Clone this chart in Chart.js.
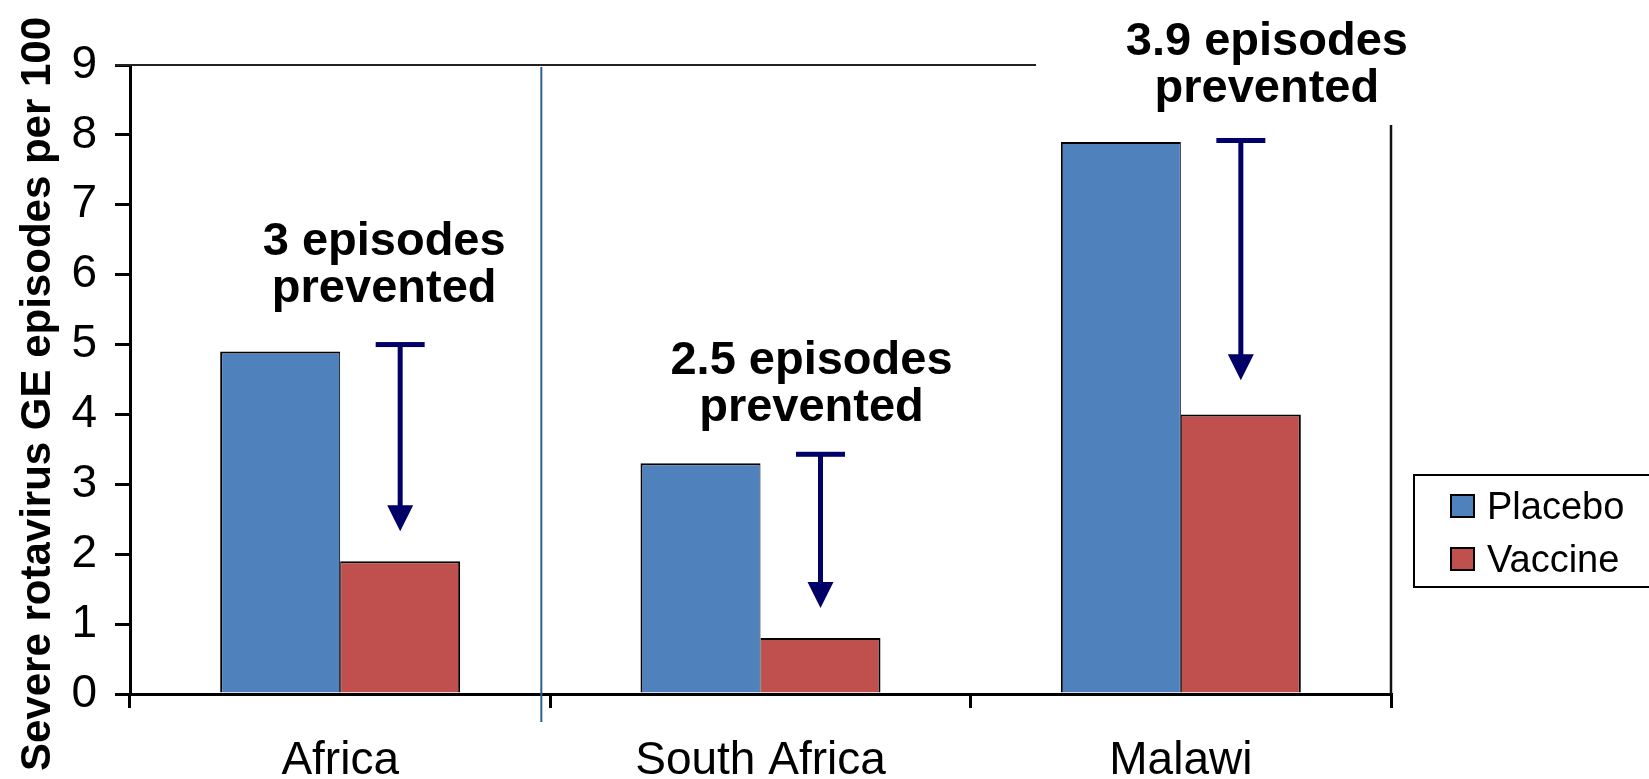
<!DOCTYPE html>
<html>
<head>
<meta charset="utf-8">
<script src="https://cdn.jsdelivr.net/npm/chart.js@4.4.1/dist/chart.umd.min.js"></script>
<style>
  html, body { margin: 0; padding: 0; background: #ffffff; }
  canvas { display: block; }
</style>
</head>
<body>
<canvas id="chart" width="1649" height="779"></canvas>
<script>
// Severe rotavirus gastroenteritis episodes per 100, by site and study arm
const categories = ['Africa', 'South Africa', 'Malawi'];
const placebo = [4.9, 3.3, 7.9];
const vaccine = [1.9, 0.8, 4.0];

// Arrow annotations: start (cap) and end (tip) values on the y scale
const arrowFrom = [5.0, 3.43, 7.92];
const arrowTo = [2.33, 1.23, 4.49];

// y-axis tick values
const yTickValues = [0, 1, 2, 3, 4, 5, 6, 7, 8, 9];

const FONT = "'Liberation Sans', Arial, Helvetica, sans-serif";
const BLUE = '#4f81bd';
const RED = '#c0504d';
const NAVY = '#000066';

// Placement of the "episodes prevented" captions relative to each arrow
const captionLayout = [
  { dx: -16, gap: 43 },
  { dx: -9, gap: 33 },
  { dx: 26, gap: 38 }
];

const fmt = v => String(parseFloat(v.toFixed(1)));

const decorations = {
  id: 'decorations',
  afterDatasetsDraw(chart) {
    const ctx = chart.ctx;
    const area = chart.chartArea;
    const y = chart.scales.y;
    const x = chart.scales.x;
    ctx.save();

    // partial top frame line
    ctx.strokeStyle = '#222222';
    ctx.lineWidth = 2;
    ctx.beginPath();
    ctx.moveTo(area.left - 15, area.top);
    ctx.lineTo(area.left + (area.right - area.left) * 0.7185, area.top);
    ctx.stroke();

    // right frame line
    ctx.strokeStyle = '#111111';
    ctx.lineWidth = 2.5;
    ctx.beginPath();
    ctx.moveTo(area.right, y.getPixelForValue(8.14));
    ctx.lineTo(area.right, area.bottom);
    ctx.stroke();

    // divider between the pooled result and the individual countries
    const boundary = (x.getPixelForValue(0) + x.getPixelForValue(1)) / 2;
    ctx.strokeStyle = '#2e5f8e';
    ctx.lineWidth = 2;
    ctx.beginPath();
    ctx.moveTo(boundary - 9, area.top + 2);
    ctx.lineTo(boundary - 9, area.bottom + 28);
    ctx.stroke();

    // arrows and captions
    const meta = chart.getDatasetMeta(1);
    for (let i = 0; i < categories.length; i++) {
      const ax = meta.data[i].x;
      const yTop = y.getPixelForValue(arrowFrom[i]);
      const yTip = y.getPixelForValue(arrowTo[i]);
      ctx.fillStyle = NAVY;
      // cap
      ctx.fillRect(ax - 24.5, yTop - 2.5, 49, 5);
      // shaft
      ctx.fillRect(ax - 2.5, yTop, 5, (yTip - 25) - yTop);
      // head
      ctx.beginPath();
      ctx.moveTo(ax - 13, yTip - 26);
      ctx.lineTo(ax + 13, yTip - 26);
      ctx.lineTo(ax, yTip);
      ctx.closePath();
      ctx.fill();

      // caption
      const diff = fmt(placebo[i] - vaccine[i]);
      const cx = ax + captionLayout[i].dx;
      const base2 = yTop - captionLayout[i].gap;
      ctx.fillStyle = '#000000';
      ctx.font = 'bold 47px ' + FONT;
      ctx.textAlign = 'center';
      ctx.textBaseline = 'alphabetic';
      ctx.fillText(diff + ' episodes', cx, base2 - 47);
      ctx.fillText('prevented', cx, base2);
    }

    // y-axis title
    ctx.save();
    ctx.translate(38, 394);
    ctx.rotate(-Math.PI / 2);
    ctx.font = 'bold 42px ' + FONT;
    ctx.fillStyle = '#000000';
    ctx.textAlign = 'center';
    ctx.textBaseline = 'middle';
    ctx.fillText('Severe rotavirus GE episodes per 100', 0, 0);
    ctx.restore();

    // legend
    ctx.strokeStyle = '#000000';
    ctx.lineWidth = 2;
    ctx.strokeRect(1414, 475, 260, 112);
    const rows = [519, 572];
    chart.data.datasets.forEach((ds, k) => {
      const base = rows[k];
      ctx.fillStyle = ds.backgroundColor;
      ctx.fillRect(1451, base - 24, 23, 22);
      ctx.strokeStyle = '#000000';
      ctx.lineWidth = 2;
      ctx.strokeRect(1451, base - 24, 23, 22);
      ctx.fillStyle = '#000000';
      ctx.font = '38px ' + FONT;
      ctx.textAlign = 'left';
      ctx.textBaseline = 'alphabetic';
      ctx.fillText(ds.label, 1487, base);
    });

    ctx.restore();
  }
};

new Chart(document.getElementById('chart'), {
  type: 'bar',
  data: {
    labels: categories,
    datasets: [
      {
        label: 'Placebo',
        data: placebo,
        backgroundColor: BLUE,
        borderColor: '#000000',
        borderWidth: { top: 2, left: 2, right: 1, bottom: 0 },
        borderSkipped: 'bottom',
        categoryPercentage: 0.571,
        barPercentage: 1.0
      },
      {
        label: 'Vaccine',
        data: vaccine,
        backgroundColor: RED,
        borderColor: '#000000',
        borderWidth: { top: 2, left: 1, right: 2, bottom: 0 },
        borderSkipped: 'bottom',
        categoryPercentage: 0.571,
        barPercentage: 1.0
      }
    ]
  },
  options: {
    responsive: false,
    animation: false,
    devicePixelRatio: 1,
    layout: { padding: { top: 65, right: 258, bottom: 0, left: 0 } },
    plugins: {
      legend: { display: false },
      tooltip: { enabled: false },
      title: { display: false }
    },
    scales: {
      x: {
        offset: true,
        grid: {
          offset: true,
          drawOnChartArea: false,
          drawTicks: true,
          tickLength: 14,
          color: '#000000',
          lineWidth: 3
        },
        border: { display: true, color: '#000000', width: 3 },
        ticks: {
          font: { family: FONT, size: 46 },
          color: '#000000',
          padding: 26,
          maxRotation: 0,
          autoSkip: false
        },
        afterFit(scale) { scale.height = 85; }
      },
      y: {
        min: 0,
        max: 9,
        grid: {
          drawOnChartArea: false,
          drawTicks: true,
          tickLength: 15,
          color: '#000000',
          lineWidth: 3
        },
        border: { display: true, color: '#000000', width: 3 },
        ticks: {
          font: { family: FONT, size: 46 },
          color: '#000000',
          padding: 18
        },
        afterBuildTicks(scale) {
          scale.ticks = yTickValues.map(v => ({ value: v }));
        },
        afterFit(scale) { scale.width = 130; }
      }
    }
  },
  plugins: [decorations]
});
</script>
</body>
</html>
